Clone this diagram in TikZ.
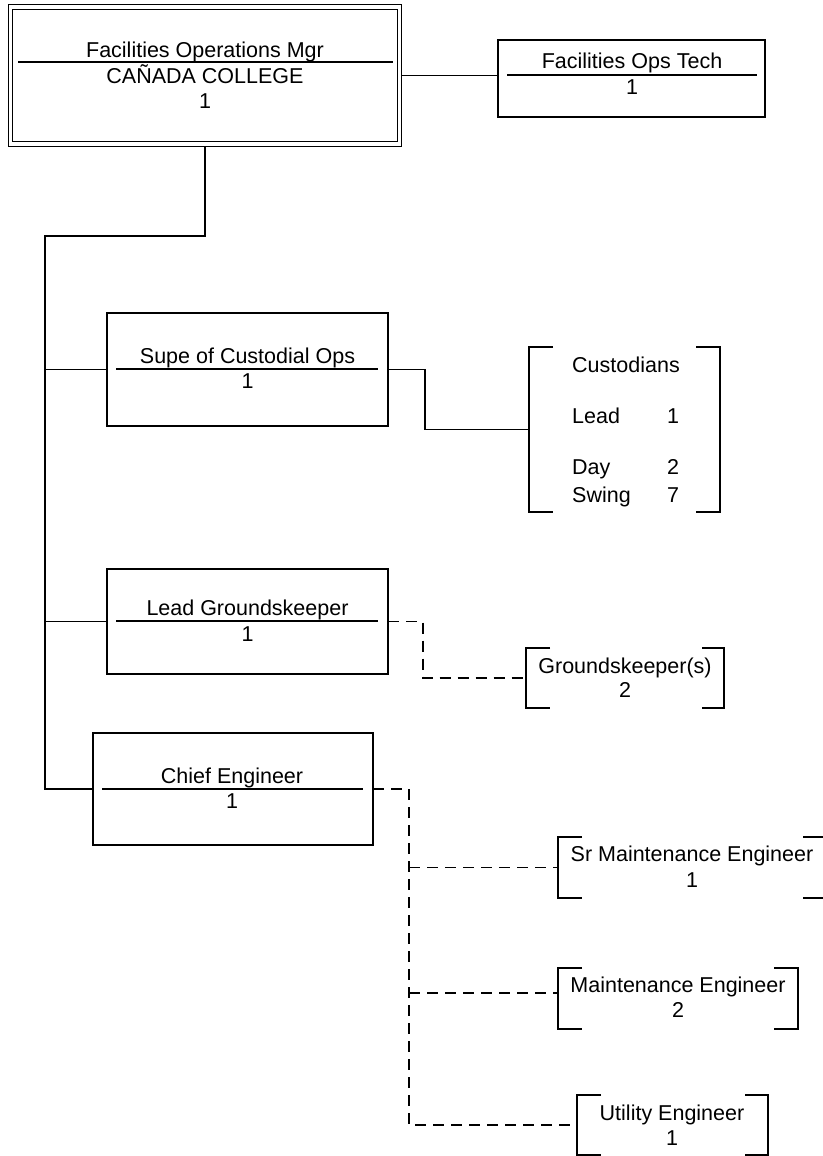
\documentclass[tikz,border=0pt]{standalone}
\usepackage{fontspec}
\setmainfont{Liberation Sans}
\begin{document}
\begin{tikzpicture}
		[x=1pt,y=-1pt,
		 link/.style={line width=1.3pt},
		 dashlink/.style={link,dash pattern=on 11pt off 7pt},
		 post/.style={draw,rectangle,line width=1.3pt,inner sep=0pt,outer sep=0pt},
		 group/.style={rectangle,inner sep=0pt,outer sep=0pt},
		 txt/.style={font=\fontsize{21.5}{26}\selectfont,inner sep=0pt,anchor=base}]
		\useasboundingbox (0,0) rectangle (822,1156);

		% draw the manager box and the tech box
		\node [post,double,double distance=3.5pt,line width=1.1pt,outer sep=2.85pt,minimum width=389pt,minimum height=137pt] (mgr) at (205,75.5) {};
		\node [txt] (mgr-title) at (205,57) {Facilities Operations Mgr};
		\draw [link] (18,62) -- (393,62);
		\node [txt] (mgr-site) at (205,83) {CAÑADA COLLEGE};
		\node [txt] (mgr-count) at (205,108) {1};

		\node [post,minimum width=267pt,minimum height=77pt] (tech) at (631.5,78.5) {};
		\node [txt] (tech-title) at (632,69) {Facilities Ops Tech};
		\draw [link] (507,75) -- (757,75);
		\node [txt] (tech-count) at (632,94) {1};

		% draw the three supervisor boxes
		\node [post,minimum width=281pt,minimum height=113pt] (supe) at (247.5,369.5) {};
		\node [txt] (supe-title) at (247.5,363) {Supe of Custodial Ops};
		\draw [link] (116,369) -- (378,369);
		\node [txt] (supe-count) at (247.5,388) {1};

		\node [post,minimum width=281pt,minimum height=105pt] (leadgk) at (247.5,621.5) {};
		\node [txt] (leadgk-title) at (247.5,615) {Lead Groundskeeper};
		\draw [link] (116,621) -- (378,621);
		\node [txt] (leadgk-count) at (247.5,641) {1};

		\node [post,minimum width=280pt,minimum height=112pt] (chief) at (233,789) {};
		\node [txt] (chief-title) at (232,783) {Chief Engineer};
		\draw [link] (102,789) -- (363,789);
		\node [txt] (chief-count) at (232,808) {1};

		% draw the staff groups
		\node [group,minimum width=191pt,minimum height=165pt] (cust) at (624.5,429.5) {};
		\node [txt,anchor=base west] (cust-title) at (572,372) {Custodians};
		\node [txt,anchor=base west] (cust-lead) at (572,423) {Lead};
		\node [txt] (cust-lead-n) at (673,423) {1};
		\node [txt,anchor=base west] (cust-day) at (572,474) {Day};
		\node [txt] (cust-day-n) at (673,474) {2};
		\node [txt,anchor=base west] (cust-swing) at (572,502) {Swing};
		\node [txt] (cust-swing-n) at (673,502) {7};

		\node [group,minimum width=198pt,minimum height=60pt] (gk) at (625,678) {};
		\node [txt] (gk-title) at (625,673) {Groundskeeper(s)};
		\node [txt] (gk-count) at (625,697) {2};

		\node [group,minimum width=268pt,minimum height=61pt] (srme) at (692,867.5) {};
		\node [txt] (srme-title) at (692,861) {Sr Maintenance Engineer};
		\node [txt] (srme-count) at (692,887) {1};

		\node [group,minimum width=240pt,minimum height=61pt] (me) at (678,998.5) {};
		\node [txt] (me-title) at (678,992) {Maintenance Engineer};
		\node [txt] (me-count) at (678,1017) {2};

		\node [group,minimum width=191pt,minimum height=60pt] (ue) at (672.5,1125) {};
		\node [txt] (ue-title) at (672,1120) {Utility Engineer};
		\node [txt] (ue-count) at (672,1145) {1};

		% draw the brackets round the groups
		\draw [link] ([xshift=24pt]cust.north west) -- (cust.north west) -- (cust.south west) -- ([xshift=24pt]cust.south west);
		\draw [link] ([xshift=-24pt]cust.north east) -- (cust.north east) -- (cust.south east) -- ([xshift=-24pt]cust.south east);
		\draw [link] ([xshift=24pt]gk.north west) -- (gk.north west) -- (gk.south west) -- ([xshift=24pt]gk.south west);
		\draw [link] ([xshift=-22pt]gk.north east) -- (gk.north east) -- (gk.south east) -- ([xshift=-22pt]gk.south east);
		\draw [link] ([xshift=24pt]srme.north west) -- (srme.north west) -- (srme.south west) -- ([xshift=24pt]srme.south west);
		\draw [link] ([xshift=-23pt]srme.north east) -- (srme.north east) -- (srme.south east) -- ([xshift=-23pt]srme.south east);
		\draw [link] ([xshift=24pt]me.north west) -- (me.north west) -- (me.south west) -- ([xshift=24pt]me.south west);
		\draw [link] ([xshift=-24pt]me.north east) -- (me.north east) -- (me.south east) -- ([xshift=-24pt]me.south east);
		\draw [link] ([xshift=24pt]ue.north west) -- (ue.north west) -- (ue.south west) -- ([xshift=24pt]ue.south west);
		\draw [link] ([xshift=-23pt]ue.north east) -- (ue.north east) -- (ue.south east) -- ([xshift=-23pt]ue.south east);

		% draw the solid lines
		\coordinate (trunk) at (45,236);
		\draw [link] (mgr.south) |- (trunk) |- (chief.west);
		\draw [link] (trunk |- supe.west) -- (supe.west);
		\draw [link] (trunk |- leadgk.west) -- (leadgk.west);
		\draw [link] (mgr.east) -- (mgr.east -| tech.west);
		\draw [link] (supe.east) -- ++(37,0) |- (cust.west);

		% draw the dashed lines
		\coordinate (me-in) at ([yshift=5.5pt]me.west);
		\draw [dashlink] (leadgk.east) -- ++(35,0) |- (gk.west);
		\draw [dashlink] (chief.east) -- ++(36,0) coordinate (spine) |- (ue.west);
		\draw [dashlink] (spine |- srme.west) -- (srme.west);
		\draw [dashlink] (spine |- me-in) -- (me-in);
	\end{tikzpicture}
\end{document}
